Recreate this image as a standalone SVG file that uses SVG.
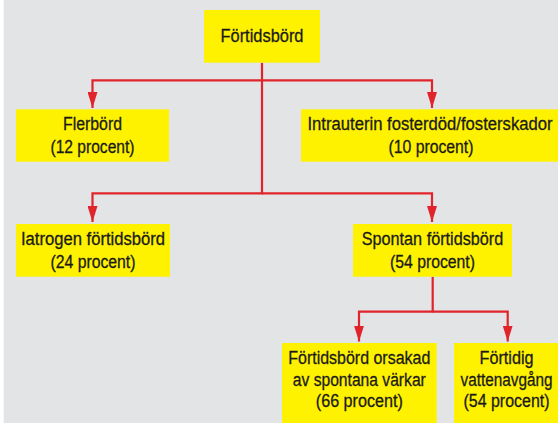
<svg xmlns="http://www.w3.org/2000/svg" width="558" height="423" viewBox="0 0 558 423">
<style>
.box{fill:#fff200}
.t{font-family:"Liberation Sans",Arial,sans-serif;font-size:18px;fill:#1a1a1a;stroke:#1a1a1a;stroke-width:0.3;text-anchor:middle}
.c{fill:none;stroke:#e1242b;stroke-width:2.2}
</style>
<defs>
<marker id="ah" markerUnits="userSpaceOnUse" markerWidth="16" markerHeight="10" refX="16" refY="5" orient="auto">
<path d="M0,0 L16,5 L0,10 z" fill="#e1242b"/>
</marker>
</defs>
<rect x="0" y="0" width="558" height="423" fill="#ffffff"/>
<rect x="3.7" y="0" width="554.3" height="423" fill="#e2e4e6"/>
<g id="connectors">
<path class="c" d="M262,62.7 V80.3 H92.5 V108" marker-end="url(#ah)"/>
<path class="c" d="M262,80.3 H432 V108" marker-end="url(#ah)"/>
<path class="c" d="M262,80 V193.3 H92.5 V222" marker-end="url(#ah)"/>
<path class="c" d="M262,193.3 H432 V222" marker-end="url(#ah)"/>
<path class="c" d="M432.7,276.7 V311.7 H359 V341.5" marker-end="url(#ah)"/>
<path class="c" d="M432.7,311.7 H507.7 V341.5" marker-end="url(#ah)"/>
</g>
<g id="n-fortidsbord">
<rect class="box" x="204" y="10" width="116" height="52.7"/>
<text class="t" x="262" y="41.7" textLength="83" lengthAdjust="spacingAndGlyphs">Förtidsbörd</text>
</g>
<g id="n-flerbord">
<rect class="box" x="16" y="109.3" width="153" height="52.4"/>
<text class="t" x="92.5" y="129.5" textLength="59" lengthAdjust="spacingAndGlyphs">Flerbörd</text>
<text class="t" x="92.5" y="152.5" textLength="84" lengthAdjust="spacingAndGlyphs">(12 procent)</text>
</g>
<g id="n-intrauterin">
<rect class="box" x="301" y="109.3" width="257" height="52.4"/>
<text class="t" x="430" y="129.5" textLength="245" lengthAdjust="spacingAndGlyphs">Intrauterin fosterdöd/fosterskador</text>
<text class="t" x="431" y="152.5" textLength="85" lengthAdjust="spacingAndGlyphs">(10 procent)</text>
</g>
<g id="n-iatrogen">
<rect class="box" x="16" y="224" width="154" height="52.7"/>
<text class="t" x="93" y="245" textLength="144" lengthAdjust="spacingAndGlyphs">Iatrogen förtidsbörd</text>
<text class="t" x="93" y="267.7" textLength="85" lengthAdjust="spacingAndGlyphs">(24 procent)</text>
</g>
<g id="n-spontan">
<rect class="box" x="353" y="224" width="159" height="52.7"/>
<text class="t" x="432.5" y="245" textLength="141.6" lengthAdjust="spacingAndGlyphs">Spontan förtidsbörd</text>
<text class="t" x="432.5" y="267.7" textLength="85" lengthAdjust="spacingAndGlyphs">(54 procent)</text>
</g>
<g id="n-varkar">
<rect class="box" x="282" y="343" width="154.7" height="80"/>
<text class="t" x="359.3" y="364.3" textLength="142" lengthAdjust="spacingAndGlyphs">Förtidsbörd orsakad</text>
<text class="t" x="359.3" y="385.5" textLength="133" lengthAdjust="spacingAndGlyphs">av spontana värkar</text>
<text class="t" x="359.3" y="407" textLength="87" lengthAdjust="spacingAndGlyphs">(66 procent)</text>
</g>
<g id="n-vattenavgang">
<rect class="box" x="454" y="343" width="104" height="80"/>
<text class="t" x="506.5" y="364.3" textLength="54" lengthAdjust="spacingAndGlyphs">Förtidig</text>
<text class="t" x="506.5" y="385.5" textLength="92" lengthAdjust="spacingAndGlyphs">vattenavgång</text>
<text class="t" x="506.5" y="407" textLength="86" lengthAdjust="spacingAndGlyphs">(54 procent)</text>
</g>
</svg>
